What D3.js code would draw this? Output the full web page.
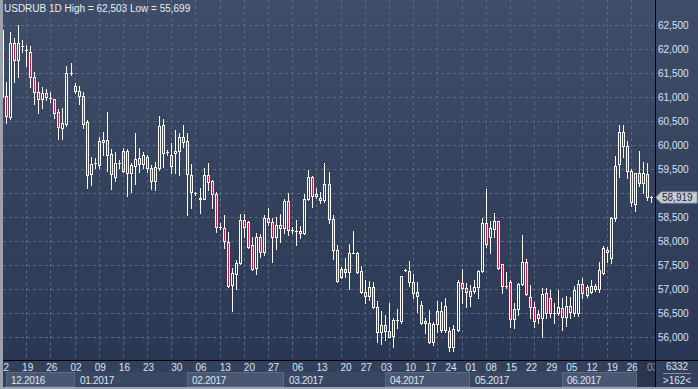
<!DOCTYPE html>
<html>
<head>
<meta charset="utf-8">
<script src="https://cdn.jsdelivr.net/npm/d3@7"></script>
<style>
  body { margin: 0; background: #8f98a5; }
  svg { display: block; font-family: "Liberation Sans", Arial, sans-serif; }
</style>
</head>
<body>
<div class="chart"></div>
<script>
// USDRUB daily candles, Dec 2016 - Jul 2017
var openVals = [61000,61021,60583,62125,61771,62063,61979,61938,61417,61104,
  60958,61083,60979,60958,60688,60354,60438,61500,61229,61125,
  61021,60479,59396,59625,59583,60063,60104,59813,59333,59625,
  59458,59875,59417,59563,59729,59604,59750,59521,59250,59521,
  60417,59854,59792,59833,59875,60167,60083,59375,59000,58875,
  58875,59375,59250,58979,58292,58271,57979,57083,57313,57542,
  58438,58396,57917,57438,58083,57771,58479,58396,58083,58333,
  58271,58833,58229,58208,58208,58167,58875,59333,58938,58896,
  58854,59188,58458,57813,57250,57417,57354,57750,57750,57375,
  56938,56854,57042,56625,56104,56250,56125,56021,56354,56333,
  57396,57375,57146,56938,56667,56292,56292,55896,56271,56542,
  56146,56125,55792,56146,57125,57021,56854,56958,57042,57375,
  58375,58083,58250,58417,57521,57063,57146,56375,56583,57104,
  57563,56833,56625,56479,56396,56917,56813,56500,56500,56604,
  56417,56646,56500,56500,57104,56875,56938,57063,57000,57333,
  57771,57646,58479,59604,60271,59979,59458,58771,59417,59208,
  59396,58917];
var highVals = [62438,61313,62354,62229,62503,62188,62083,62063,61521,61313,
  61208,61167,61104,60958,60750,60771,61646,61708,61292,61229,
  61104,60521,59750,59729,60167,60271,60688,59917,59854,59688,
  59938,59917,59625,60250,59938,59854,59792,59583,59646,60604,
  60542,59896,60042,60313,60250,60417,60250,59604,59021,59104,
  59521,59625,59271,59021,58375,58542,58188,57438,57604,58563,
  58563,58417,58083,58167,58146,58542,58688,58479,58500,58563,
  58875,59000,58292,58438,58313,58979,59479,59354,59104,59021,
  59625,59438,58542,57917,57458,57646,57938,58208,57771,57479,
  57188,57167,57146,56750,56542,56458,56708,56396,56583,57271,
  57417,57583,57313,57146,56750,56396,56563,56313,56750,56729,
  56813,56208,56250,57188,57417,57125,57083,57188,57396,58479,
  59083,58417,58583,58417,57521,57354,57188,56708,57125,58125,
  57625,57083,56729,56563,57021,57021,56979,56708,56979,56813,
  56854,56833,57063,57188,57229,57083,57188,57104,57563,57896,
  57875,58500,59771,60417,60417,60083,59500,59417,59875,59646,
  59625,58938];
var lowVals = [60958,60458,60542,61313,61417,61938,61646,61208,60854,60667,
  60771,60938,60896,60563,60125,60125,60396,61458,61083,60854,
  60354,59104,59167,59521,59521,59792,59458,59083,59250,59521,
  59438,58938,59021,59188,59438,59521,59438,59083,59063,59479,
  59542,59792,59417,59417,59375,59958,58542,58688,58958,58583,
  58875,59063,58688,58188,58250,57854,57042,56542,57000,57521,
  58083,57854,57396,57313,57667,57708,58333,57563,57833,57979,
  58167,58125,58167,57917,58063,58146,58854,58708,58896,58792,
  58813,58375,57625,57146,57229,57250,57000,57750,57333,56917,
  56708,56771,56604,55896,55854,55938,56000,55792,56188,56292,
  57375,57063,56813,56521,56271,56083,55875,55833,56104,56104,
  56104,55699,55710,56125,56708,56625,56646,56917,56813,57354,
  57875,57750,58083,57417,56917,57021,56208,56188,56458,57083,
  56875,56396,56208,56292,56000,56396,56417,56292,56458,56146,
  56229,56396,56438,56438,56813,56833,56917,56958,56938,57313,
  57563,57542,58417,59333,59750,59313,58729,58625,59146,59000,
  58854,58813];
var closeVals = [62396,60604,62125,61771,62125,62070,61985,61417,61104,60958,
  61083,61000,60985,60667,60375,60458,61500,61505,61125,61021,
  60438,59375,59604,59630,60083,60104,59792,59396,59625,59630,
  59875,59417,59583,59708,59604,59792,59521,59250,59542,60396,
  59833,59860,59563,59875,60167,60063,59396,59021,59005,58896,
  59375,59229,58979,58292,58297,58000,57063,57333,57542,58438,
  58292,57875,57417,58083,57771,58479,58396,58083,58333,58271,
  58833,58229,58235,58215,58167,58875,59333,58938,58979,58854,
  59188,58458,57813,57167,57417,57354,57750,57755,57354,56938,
  56854,57042,56625,56104,56250,56125,56000,56354,56360,57271,
  57400,57146,56917,56854,56292,56333,55896,56271,56542,56146,
  56646,55792,56167,57146,57021,56938,56958,57042,57375,58375,
  57938,58271,58417,57438,57063,57068,56375,56583,57104,57563,
  56896,56625,56333,56396,56896,56500,56500,56505,56625,56417,
  56646,56521,56979,57104,56917,57042,57063,57000,57396,57854,
  57813,58479,59563,60271,59979,59458,58813,59417,59208,59417,
  58917,58919];

// axis labels
var priceTicks = d3.range(56000, 62501, 500);
var dayTickIdx = [0,6,12,18,24,30,36,43,49,55,61,67,73,79,85,90,95,101,106,111,116,121,126,131,136,141,146,151,156,161];
var dayTickLabels = ["12","19","26","02","09","16","23","30","06","13","20","27","06","13","20","27","03","10","17","24","01","08","15","22","29","05","12","19","26","03"];
var monthStartIdx = [0,18,46,70,95,116,139];
var monthLabels = ["12.2016","01.2017","02.2017","03.2017","04.2017","05.2017","06.2017"];
var volumeLabel = "6332";

var W = 698, H = 389;
var plot = { left: 3, right: 655, top: 0, bottom: 360 };
var fmt = d3.format(",.0f");

var svg = d3.select(".chart").append("svg")
  .attr("width", W)
  .attr("height", H);

var defs = svg.append("defs");
var grad = defs.append("linearGradient").attr("id", "bg")
  .attr("x1", 0).attr("y1", 0).attr("x2", 0).attr("y2", 1);
grad.append("stop").attr("offset", "0%").attr("stop-color", "#404d68");
grad.append("stop").attr("offset", "100%").attr("stop-color", "#2b3855");
defs.append("clipPath").attr("id", "plotClip")
  .append("rect")
  .attr("x", plot.left).attr("y", plot.top)
  .attr("width", plot.right - plot.left).attr("height", plot.bottom - plot.top);
defs.append("clipPath").attr("id", "axisClip")
  .append("rect")
  .attr("x", plot.left).attr("y", plot.bottom)
  .attr("width", plot.right - plot.left).attr("height", H - plot.bottom);

// scales
var x = d3.scaleLinear().domain([0, openVals.length - 1]).range([2, 651]);
var y = d3.scaleLinear().domain([56000, 62500]).range([337, 25]);

// frame + backgrounds
svg.append("rect").attr("width", W).attr("height", H).attr("fill", "#9aa2ae");
svg.append("rect")
  .attr("x", plot.left).attr("y", 0)
  .attr("width", W - plot.left).attr("height", plot.bottom)
  .attr("fill", "url(#bg)");
svg.append("rect")
  .attr("x", plot.left).attr("y", plot.bottom)
  .attr("width", W - plot.left).attr("height", H - plot.bottom - 2)
  .attr("fill", "#34415d");

/////////////////////// grid ///////////////////////
var grid = svg.append("g").attr("clip-path", "url(#plotClip)");
grid.selectAll(".hgrid")
  .data(priceTicks)
  .enter().append("line")
  .attr("class", "hgrid")
  .attr("x1", plot.left).attr("x2", plot.right)
  .attr("y1", function (d) { return Math.round(y(d)) + 0.5; })
  .attr("y2", function (d) { return Math.round(y(d)) + 0.5; })
  .style("stroke", "#5a6781")
  .style("stroke-dasharray", "3,3");
grid.selectAll(".vgrid")
  .data(d3.range(6, openVals.length, 6))
  .enter().append("line")
  .attr("class", "vgrid")
  .attr("x1", function (d) { return Math.round(x(d)) + 0.5; })
  .attr("x2", function (d) { return Math.round(x(d)) + 0.5; })
  .attr("y1", plot.top).attr("y2", plot.bottom)
  .style("stroke", "#5a6781")
  .style("stroke-dasharray", "3,3");

/////////////////////// candles ///////////////////////
var candles = openVals.map(function (o, i) {
  return { i: i, o: o, h: highVals[i], l: lowVals[i], c: closeVals[i] };
});
function cx(d) { return Math.round(x(d.i)) + 0.5; }
function yTop(d) { return Math.round(y(Math.max(d.o, d.c))) + 0.5; }
function yBot(d) { return Math.round(y(Math.min(d.o, d.c))) + 0.5; }
function isDoji(d) { return yBot(d) - yTop(d) < 1; }

var cg = svg.append("g").attr("clip-path", "url(#plotClip)");
var candle = cg.selectAll(".candle")
  .data(candles)
  .enter().append("g")
  .attr("class", "candle");

// upper and lower wicks (stop at the body so hollow bodies stay empty)
candle.append("line")
  .attr("x1", cx).attr("x2", cx)
  .attr("y1", function (d) { return Math.round(y(d.h)); })
  .attr("y2", function (d) { return yTop(d); })
  .style("stroke", "#fff");
candle.append("line")
  .attr("x1", cx).attr("x2", cx)
  .attr("y1", function (d) { return yBot(d); })
  .attr("y2", function (d) { return Math.round(y(d.l)) + 1; })
  .style("stroke", "#fff");

candle.filter(function (d) { return !isDoji(d); })
  .append("rect")
  .attr("x", function (d) { return cx(d) - 1; })
  .attr("width", 2)
  .attr("y", yTop)
  .attr("height", function (d) { return yBot(d) - yTop(d); })
  .style("fill", function (d) { return d.c < d.o ? "#e0123c" : "none"; })
  .style("stroke", "#fff");

candle.filter(isDoji)
  .append("line")
  .attr("x1", function (d) { return cx(d) - 1.5; })
  .attr("x2", function (d) { return cx(d) + 1.5; })
  .attr("y1", yTop).attr("y2", yTop)
  .style("stroke", "#fff");

/////////////////////// separators ///////////////////////
svg.append("line")
  .attr("x1", plot.right + 0.5).attr("x2", plot.right + 0.5)
  .attr("y1", 0).attr("y2", H - 2)
  .style("stroke", "#000");
svg.append("line")
  .attr("x1", plot.left).attr("x2", W)
  .attr("y1", plot.bottom + 0.5).attr("y2", plot.bottom + 0.5)
  .style("stroke", "#000");

// title
svg.append("text")
  .attr("x", 4).attr("y", 12)
  .style("font-size", "10px")
  .attr("fill", "#e9eef6")
  .text("USDRUB 1D High = " + fmt(d3.max(highVals)) + " Low = " + fmt(d3.min(lowVals)));

/////////////////////// price axis ///////////////////////
var last = closeVals[closeVals.length - 1];
var ly = Math.round(y(last));

// the tick hidden under the last-price marker is left out
svg.selectAll(".ylab")
  .data(priceTicks.filter(function (d) { return Math.abs(y(d) - ly) > 9; }))
  .enter().append("text")
  .attr("class", "ylab")
  .attr("x", 658)
  .attr("y", function (d) { return y(d) + 3.5; })
  .style("font-size", "10px")
  .attr("fill", "#d8e3f3")
  .text(function (d) { return fmt(d); });

// last price marker
svg.append("path")
  .attr("d", "M656," + (ly + 0.5) + "L661," + (ly - 5) + "H697V" + (ly + 6) + "H661Z")
  .attr("fill", "#c6cdd8")
  .attr("stroke", "#9aa3b0");
svg.append("text")
  .attr("x", 662).attr("y", ly + 4)
  .style("font-size", "10px")
  .attr("fill", "#1c2536")
  .text(fmt(last));

/////////////////////// date axis ///////////////////////
var axisG = svg.append("g").attr("clip-path", "url(#axisClip)");

// month boxes
var monthRight = monthStartIdx.slice(1).map(function (k) { return Math.round(x(k)); }).concat([637]);
axisG.selectAll(".mbox")
  .data(monthStartIdx)
  .enter().append("rect")
  .attr("class", "mbox")
  .attr("x", function (d) { return Math.max(6, Math.round(x(d))) + 0.5; })
  .attr("y", 372.5)
  .attr("width", function (d, i) { return monthRight[i] - Math.max(6, Math.round(x(d))) - 1; })
  .attr("height", 14)
  .attr("fill", function (d, i) { return i % 2 === 0 ? "#4a5772" : "#3a4762"; })
  .attr("stroke", function (d, i) { return i % 2 === 0 ? "#5c6983" : "#3a4762"; });
axisG.selectAll(".mlab")
  .data(monthStartIdx)
  .enter().append("text")
  .attr("class", "mlab")
  .attr("x", function (d) { return Math.max(6, Math.round(x(d))) + 5; })
  .attr("y", 383.5)
  .style("font-size", "10px")
  .style("letter-spacing", "-0.3px")
  .attr("fill", "#dae4f2")
  .text(function (d, i) { return monthLabels[i]; });

axisG.selectAll(".dlab")
  .data(dayTickIdx)
  .enter().append("text")
  .attr("class", "dlab")
  .attr("x", function (d) { return x(d) + 1.5; })
  .attr("y", 371)
  .attr("text-anchor", "middle")
  .style("font-size", "10px")
  .attr("fill", "#dae4f2")
  .text(function (d, i) { return dayTickLabels[i]; });

// scroll shade at the right end of the date axis
svg.append("rect")
  .attr("x", 637).attr("y", plot.bottom + 1)
  .attr("width", plot.right - 637).attr("height", H - plot.bottom - 3)
  .attr("fill", "#1e2a40")
  .attr("fill-opacity", 0.45);

// bottom right info cell
svg.append("text")
  .attr("x", 677).attr("y", 370)
  .attr("text-anchor", "middle")
  .style("font-size", "10px")
  .attr("fill", "#dae4f2")
  .text(volumeLabel);
svg.append("line")
  .attr("x1", 663).attr("x2", 691)
  .attr("y1", 373.5).attr("y2", 373.5)
  .style("stroke", "#8592a8");
svg.append("text")
  .attr("x", 677).attr("y", 384)
  .attr("text-anchor", "middle")
  .style("font-size", "10px")
  .attr("fill", "#dae4f2")
  .text(">" + openVals.length + "<");
</script>
</body>
</html>
